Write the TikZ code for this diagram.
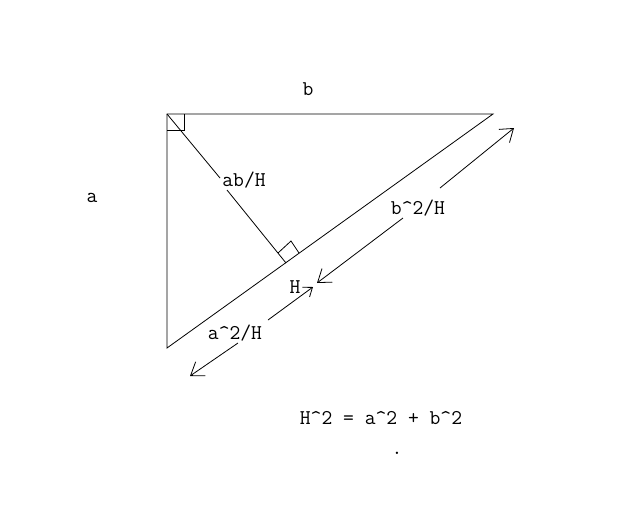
\documentclass[tikz,border=0pt]{standalone}
\usepackage{tikz}
\usetikzlibrary{arrows.meta}
\tikzset{
  txt/.style={font=\fontsize{21}{25}\selectfont\ttfamily, inner sep=0pt},
  bighead/.style={-{Straight Barb[length=12pt,width=17pt]}},
  smallhead/.style={-{Straight Barb[length=8pt,width=12pt]}}
}
\begin{document}
\begin{tikzpicture}[x=1pt, y=-1pt, line width=0.8pt]
			\useasboundingbox (0,0) rectangle (640,515);
			\coordinate (C) at (167,114);
			\coordinate (B) at (493,114);
			\coordinate (A) at (167,348);
			\coordinate (F) at (286,263);
			\draw (C) -- (B) -- (A) -- cycle;
			\draw (167,130) -| (184,114);
			\draw (278,253) -- (291,241) -- (299,253);
			\coordinate (alt1) at (220,178);
			\coordinate (alt2) at (227,190);
			\draw (C) -- (alt1);
			\draw (alt2) -- (F);
			\node[txt] (b) at (308,89) {b};
			\node[txt] (a) at (92,198) {a};
			\node[txt] (abH) at (244,180) {ab/H};
			\node[txt] (b2H) at (418,208) {b\textasciicircum2/H};
			\node[txt] (a2H) at (235,333) {a\textasciicircum2/H};
			\node[txt] (H) at (295,287) {H};
			\node[txt] (pyth) at (381,418) {H\textasciicircum2 = a\textasciicircum2 + b\textasciicircum2};
			\node[txt] (dot) at (397,453) {.};
			\coordinate (up1) at (403,218);
			\coordinate (up2) at (440,188);
			\coordinate (uptip) at (514,128);
			\coordinate (midtip) at (317,283);
			\draw[bighead] (up1) -- (midtip);
			\draw[bighead] (up2) -- (uptip);
			\coordinate (lo1) at (268,320);
			\coordinate (lo2) at (238,343);
			\coordinate (htip) at (313,287);
			\coordinate (lotip) at (190,376);
			\draw[smallhead] (lo1) -- (htip);
			\draw[bighead] (lo2) -- (lotip);
		\end{tikzpicture}
\end{document}
